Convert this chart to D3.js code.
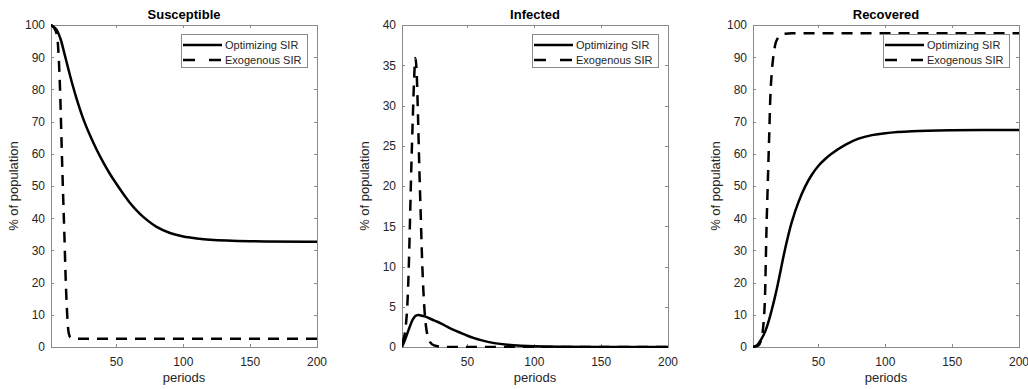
<!DOCTYPE html>
<html>
<head>
<meta charset="utf-8">
<script src="https://cdn.jsdelivr.net/npm/d3@7"></script>
<style>
  body { margin: 0; background: #fff; }
  svg { display: block; font-family: "Liberation Sans", Arial, Helvetica, sans-serif; }
</style>
</head>
<body>
<div id="chart"></div>
<script>
// [period, % of population]
const susceptibleOpt = [[1,100],[5,98.6],[8,95.8],[11,91.2],[14,86.3],[17,81.6],[20,77.3],[25,71],[30,65.9],[35,61.4],[40,57.4],[45,53.8],[50,50.6],[55,47.6],[60,44.8],[65,42.4],[70,40.4],[80,37.3],[90,35.4],[100,34.3],[110,33.7],[120,33.3],[150,32.85],[200,32.7]];
const susceptibleExo = [[1,100],[3,99.3],[5,97.5],[6,95],[7,88],[8,77],[9,62],[10,48],[11,35],[12,21],[13,11],[14,5],[15,3.3],[16,2.8],[18,2.6],[25,2.6],[200,2.6]];

const infectedOpt = [[1,0],[3,0.8],[5,1.7],[7,2.6],[9,3.4],[11,3.85],[13,3.97],[15,3.92],[18,3.8],[21,3.6],[25,3.3],[30,2.95],[35,2.5],[40,2.1],[45,1.75],[50,1.4],[55,1.1],[60,0.85],[70,0.48],[80,0.27],[90,0.15],[100,0.08],[120,0.03],[150,0.01],[200,0]];
const infectedExo = [[1,0.5],[2,0.9],[3,1.6],[4,2.9],[5,5.2],[6,9.5],[7,15.8],[8,22.5],[9,28],[10,33],[11,35.9],[12,34],[13,28.5],[14,22],[15,16.5],[16,11],[17,7],[18,4.2],[19,2.5],[20,1.5],[22,0.6],[25,0.2],[30,0.05],[40,0],[200,0]];

const recoveredOpt = [[1,0],[3,0.3],[5,1],[7,2.3],[9,3.8],[11,5.8],[13,8.4],[15,11.5],[17,14.8],[19,18.4],[21,22.4],[24,28.5],[27,34],[30,38.8],[35,45],[40,49.8],[45,53.5],[50,56.3],[55,58.4],[60,60.1],[70,62.8],[80,64.7],[90,65.8],[100,66.4],[120,67],[150,67.3],[200,67.4]];
const recoveredExo = [[1,0],[3,0.2],[5,0.5],[6,1],[7,2],[8,4],[9,8],[10,16],[11,35],[12,50],[13,64],[14,78],[15,85],[16,89.5],[17,92.5],[18,94.5],[19,95.5],[20,96.2],[22,96.9],[25,97.3],[30,97.4],[200,97.4]];

const panelTitles = ["Susceptible", "Infected", "Recovered"];
const yMaxes = [100, 40, 100];
const yTickSteps = [10, 5, 10];
const xTicks = [50, 100, 150, 200];
const legendLabels = ["Optimizing SIR", "Exogenous SIR"];

const panels = [
  {title: panelTitles[0], opt: susceptibleOpt, exo: susceptibleExo, yMax: yMaxes[0], step: yTickSteps[0]},
  {title: panelTitles[1], opt: infectedOpt, exo: infectedExo, yMax: yMaxes[1], step: yTickSteps[1]},
  {title: panelTitles[2], opt: recoveredOpt, exo: recoveredExo, yMax: yMaxes[2], step: yTickSteps[2]}
];

const width = 1028, height = 389;
const lefts = [51, 402, 753];
const plotW = 266, plotTop = 25, plotBottom = 347;
const axisColor = "#8a8a8a", textColor = "#262626";
const dash = "11,8";

const svg = d3.select("#chart").append("svg")
    .attr("width", width)
    .attr("height", height);

panels.forEach((p, i) => {
  const x = d3.scaleLinear().domain([1, 200]).range([lefts[i], lefts[i] + plotW]);
  const y = d3.scaleLinear().domain([0, p.yMax]).range([plotBottom, plotTop]);
  const g = svg.append("g");

  const yTicks = d3.range(0, p.yMax + 0.001, p.step);

  // inner ticks on all four sides, like matlab's box on
  g.selectAll(".yt").data(yTicks).join("line")
      .attr("x1", lefts[i]).attr("x2", lefts[i] + 3)
      .attr("y1", d => Math.round(y(d)) + 0.5).attr("y2", d => Math.round(y(d)) + 0.5)
      .attr("stroke", axisColor);
  g.selectAll(".yt2").data(yTicks).join("line")
      .attr("x1", lefts[i] + plotW - 3).attr("x2", lefts[i] + plotW)
      .attr("y1", d => Math.round(y(d)) + 0.5).attr("y2", d => Math.round(y(d)) + 0.5)
      .attr("stroke", axisColor);
  g.selectAll(".xt").data(xTicks).join("line")
      .attr("x1", d => Math.round(x(d)) + 0.5).attr("x2", d => Math.round(x(d)) + 0.5)
      .attr("y1", plotBottom).attr("y2", plotBottom - 3)
      .attr("stroke", axisColor);
  g.selectAll(".xt2").data(xTicks).join("line")
      .attr("x1", d => Math.round(x(d)) + 0.5).attr("x2", d => Math.round(x(d)) + 0.5)
      .attr("y1", plotTop).attr("y2", plotTop + 3)
      .attr("stroke", axisColor);

  g.append("rect")
      .attr("x", lefts[i] + 0.5).attr("y", plotTop + 0.5)
      .attr("width", plotW).attr("height", plotBottom - plotTop)
      .attr("fill", "none").attr("stroke", axisColor);

  g.selectAll(".yl").data(yTicks).join("text")
      .attr("x", lefts[i] - 6).attr("y", d => y(d))
      .attr("dy", "0.36em")
      .attr("text-anchor", "end")
      .attr("font-size", 12).attr("fill", textColor)
      .text(d => d);
  g.selectAll(".xl").data(xTicks).join("text")
      .attr("x", d => x(d)).attr("y", 366)
      .attr("text-anchor", "middle")
      .attr("font-size", 12).attr("fill", textColor)
      .text(d => d);

  g.append("text")
      .attr("x", lefts[i] + plotW / 2).attr("y", 19)
      .attr("text-anchor", "middle")
      .attr("font-size", 13).attr("font-weight", "bold").attr("fill", "#000")
      .text(p.title);
  g.append("text")
      .attr("x", lefts[i] + plotW / 2).attr("y", 382)
      .attr("text-anchor", "middle")
      .attr("font-size", 13).attr("fill", textColor)
      .text("periods");
  g.append("text")
      .attr("transform", `translate(${lefts[i] - 33},${(plotTop + plotBottom) / 2}) rotate(-90)`)
      .attr("text-anchor", "middle")
      .attr("font-size", 13).attr("fill", textColor)
      .text("% of population");

  const clipId = "clip" + i;
  g.append("clipPath").attr("id", clipId).append("rect")
      .attr("x", lefts[i]).attr("y", plotTop - 1)
      .attr("width", plotW + 1).attr("height", plotBottom - plotTop + 2);

  const exoLine = d3.line()
      .x(d => x(d[0]))
      .y(d => y(d[1]))
      .curve(d3.curveMonotoneX);
  // smoother spline for the slow optimizing curves
  const optLine = d3.line()
      .x(d => x(d[0]))
      .y(d => y(d[1]))
      .curve(d3.curveCatmullRom.alpha(0.5));

  g.append("path")
      .attr("clip-path", `url(#${clipId})`)
      .attr("d", exoLine(p.exo))
      .attr("fill", "none").attr("stroke", "#000")
      .attr("stroke-width", 2.5)
      .attr("stroke-dasharray", dash);
  g.append("path")
      .attr("clip-path", `url(#${clipId})`)
      .attr("d", optLine(p.opt))
      .attr("fill", "none").attr("stroke", "#000")
      .attr("stroke-width", 2.5);

  // legend box
  const lx = lefts[i] + plotW - 136, ly = plotTop + 9;
  const lg = g.append("g");
  lg.append("rect")
      .attr("x", lx + 0.5).attr("y", ly + 0.5)
      .attr("width", 126).attr("height", 33)
      .attr("fill", "#fff").attr("stroke", axisColor);
  legendLabels.forEach((lab, k) => {
    const yy = ly + 11 + k * 15;
    lg.append("line")
        .attr("x1", lx + 2).attr("x2", lx + 41)
        .attr("y1", yy).attr("y2", yy)
        .attr("stroke", "#000").attr("stroke-width", 2.5)
        .attr("stroke-dasharray", k === 1 ? "12,14" : null);
    lg.append("text")
        .attr("x", lx + 44).attr("y", yy)
        .attr("dy", "0.36em")
        .attr("font-size", 11).attr("fill", textColor)
        .text(lab);
  });
});
</script>
</body>
</html>
